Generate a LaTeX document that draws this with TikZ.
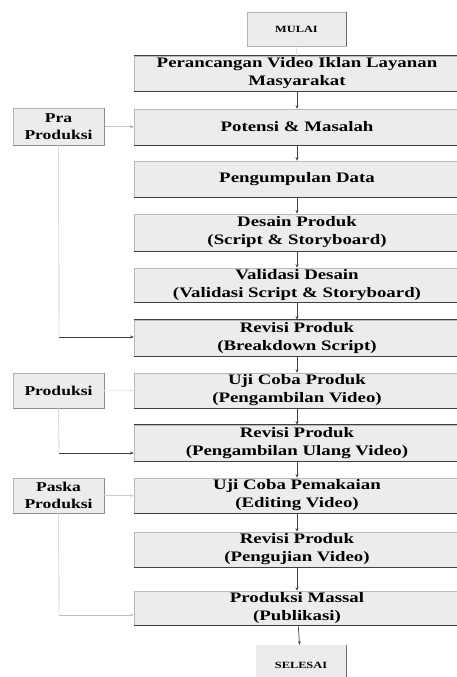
\documentclass[tikz,border=0pt]{standalone}
\usepackage{fontspec}
\setmainfont{Liberation Serif}
\newfontfamily\boxfont{Liberation Serif}[FakeStretch=1.3]
\usetikzlibrary{arrows.meta}
\definecolor{boxfill}{HTML}{ECECEC}
\tikzset{
  mainbox/.style={rectangle, fill=boxfill, draw=gray!55, line width=0.7pt, inner sep=0pt,
    minimum width=326pt, align=center, font=\boxfont\bfseries\fontsize{14.5}{18}\selectfont},
  sidebox/.style={rectangle, fill=boxfill, draw=gray!60, line width=0.7pt, inner sep=0pt,
    minimum width=91pt, minimum height=36pt, align=center, font=\boxfont\bfseries\fontsize{13.5}{17}\selectfont},
  endbox/.style={rectangle, fill=boxfill, draw=gray!60, line width=0.7pt, inner sep=0pt,
    align=center, font=\boxfont\bfseries\fontsize{9.5}{11}\selectfont},
  darkedge/.style={draw=black!75, line width=1pt},
  flow/.style={draw=black!75, line width=0.7pt, -{Stealth[length=3.5pt,width=3pt]}},
  lightflow/.style={draw=gray!35, line width=0.7pt, -{Stealth[length=3.5pt,width=3pt]}},
  lightline/.style={draw=gray!30, line width=0.9pt},
}
\begin{document}
\begin{tikzpicture}[x=1pt,y=-1pt]
\useasboundingbox (0,0) rectangle (457,677);
\fill[white] (0,0) rectangle (457,677);
% start / end
\node[endbox, minimum width=99pt, minimum height=34pt] (mulai) at (296.5,29) {MULAI};
\draw[darkedge, draw=black!60] (mulai.north east) -- (mulai.south east);
% main boxes
\node[mainbox, minimum height=35pt] (b1) at (297,73.5) {Perancangan Video Iklan Layanan\\Masyarakat};
\node[mainbox, minimum height=36pt] (b2) at (297,127) {Potensi \& Masalah};
\node[mainbox, minimum height=36pt] (b3) at (297,179) {Pengumpulan Data};
\node[mainbox, minimum height=37pt] (b4) at (297,232.5) {Desain Produk\\(Script \& Storyboard)};
\node[mainbox, minimum height=34pt] (b5) at (297,285) {Validasi Desain\\(Validasi Script \& Storyboard)};
\node[mainbox, minimum height=36pt] (b6) at (297,338) {Revisi Produk\\(Breakdown Script)};
\node[mainbox, minimum height=35pt] (b7) at (297,390.5) {Uji Coba Produk\\(Pengambilan Video)};
\node[mainbox, minimum height=36pt] (b8) at (297,443) {Revisi Produk\\(Pengambilan Ulang Video)};
\node[mainbox, minimum height=35pt] (b9) at (297,495.5) {Uji Coba Pemakaian\\(Editing Video)};
\node[mainbox, minimum height=35pt] (b10) at (297,549.5) {Revisi Produk\\(Pengujian Video)};
\node[mainbox, minimum height=34pt] (b11) at (297,608) {Produksi Massal\\(Publikasi)};
\node[endbox, minimum width=90pt, minimum height=40pt, draw=none] (selesai) at (301,665) {SELESAI};
\draw[darkedge, draw=black!60] (selesai.north east) -- (selesai.south east);
% dark bottom edges
\foreach \n in {b1,b2,b3,b4,b5,b6,b7,b8,b9,b10,b11}{
  \draw[darkedge] (\n.south west) -- (\n.south east);
}
\foreach \n in {b1,b6,b8}{
  \draw[darkedge] (\n.north west) -- (\n.north east);
}
% side boxes
\node[sidebox, minimum height=37pt] (pra) at (58.5,126.5) {Pra\\Produksi};
\node[sidebox, minimum height=35pt] (prod) at (58.5,390.5) {Produksi};
\node[sidebox, minimum height=35pt] (paska) at (58.5,495.5) {Paska\\Produksi};
\foreach \n in {pra,prod,paska}{
  \draw[draw=gray!90, line width=1pt] (\n.north east) -- (\n.south east) -- (\n.south west);
}
% main flow
\draw[lightline] (mulai) -- (b1);
\draw[flow] (b1) -- (b2);
\draw[flow] (b2) -- (b3);
\draw[flow] (b3) -- (b4);
\draw[flow] (b4) -- (b5);
\draw[flow] (b5) -- (b6);
\draw[flow] (b6) -- (b7);
\draw[flow] (b7) -- (b8);
\draw[flow] (b8) -- (b9);
\draw[flow] (b9) -- (b10);
\draw[flow] (b10) -- (b11);
\draw[flow] (b11) -- (selesai);
% side connectors
\draw[lightflow, draw=gray!70] (pra) -- (b2);
\draw[lightflow, draw=gray!15] (prod) -- (b7);
\draw[lightflow, draw=gray!40] (paska) -- (b9);
\coordinate (c1) at (59,337);
\coordinate (c2) at (59,453);
\coordinate (c3) at (59,615);
\draw[lightline] (pra.south) -- (c1);
\draw[flow] (c1) -- (c1 -| b6.west);
\draw[lightline] (prod.south) -- (c2);
\draw[flow] (c2) -- (c2 -| b8.west);
\draw[lightline] (paska.south) -- (c3);
\draw[lightflow, draw=gray!50] (c3) -- (c3 -| b11.west);
\end{tikzpicture}
\end{document}
